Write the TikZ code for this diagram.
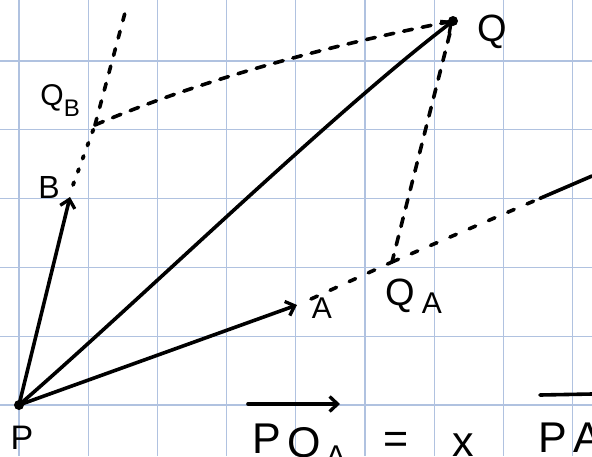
\documentclass[tikz,border=0pt]{standalone}
\usepackage{fontspec}
\setmainfont{Liberation Sans}
\usetikzlibrary{arrows.meta,calc}
\definecolor{gridblue}{RGB}{176,194,224}
\begin{document}
\begin{tikzpicture}[x=1pt,y=-1pt,
  gridline/.style={gridblue, line width=1.2pt},
  vec/.style={line width=3.6pt, line cap=round, -{Straight Barb[length=8pt,width=15pt,line width=3.3pt]}},
  guide/.style={line width=3.6pt, line cap=round, dash pattern=on 9pt off 10pt},
  dotguide/.style={line width=3.8pt, line cap=round, dash pattern=on 3pt off 11pt},
  sparse/.style={line width=3.6pt, line cap=round, dash pattern=on 7pt off 14pt},
  dot/.style={circle, fill, inner sep=0pt, minimum size=10pt},
  lab/.style={inner sep=0pt, font=\fontsize{34}{34}\selectfont},
  sub/.style={inner sep=0pt, font=\fontsize{28}{28}\selectfont},
  big/.style={inner sep=0pt, anchor=base, font=\fontsize{43}{43}\selectfont}]
\useasboundingbox (0,0) rectangle (592,456);
\fill[white] (0,0) rectangle (592,456);
\clip (0,0) rectangle (592,456);
% grid
\foreach \x in {19,88.2,157.4,226.6,295.8,365,434.2,503.4,572.6}
  \draw[gridline] (\x,0) -- (\x,456);
\foreach \y in {405,336.2,267.4,198.6,129.8,61}
  \draw[gridline] (0,\y) -- (592,\y);
% points
\node[dot] (P) at (19,405) {};
\node[dot] (Q) at (453,21) {};
\coordinate (A) at (297,305);
\coordinate (B) at (70,197);
\coordinate (QA) at (392,262);
\coordinate (QB) at (95,125);
\coordinate (Aend) at (592,176);
\coordinate (Bend) at (126,9);
% guide lines
\draw[dotguide] (B) ++(3,-12) -- (QB);
\draw[guide, dash pattern=on 7pt off 11pt] (QB) -- (Bend);
\draw[guide] (QB) .. controls (200,80) and (330,45) .. (Q.center);
\draw[guide, dash phase=6pt] (Q.center) -- (QA);
\draw[sparse] (A) ++(14,-6) -- (QA);
\draw[sparse] (QA) -- ($(QA)!0.74!(Aend)$) coordinate (Amid);
\draw[line width=3.6pt, line cap=round] (Amid) -- (Aend);
% vectors
\draw[vec] (P.center) -- (A);
\draw[vec] (P.center) -- (B);
\draw[vec] (P.center) .. controls (140,300) and (330,115) .. (Q.center);
% labels
\node[lab] (lP) at (22,438) {P};
\node[lab, font=\fontsize{38}{38}\selectfont] (lQ) at (492,32) {Q};
\node[lab, font=\fontsize{30}{30}\selectfont] (lA) at (322,308) {A};
\node[lab, font=\fontsize{32}{32}\selectfont] (lB) at (49,187) {B};
\node[lab, font=\fontsize{38}{38}\selectfont] (lQA) at (400,296) {Q};
\node[sub, font=\fontsize{30}{30}\selectfont] (lQAs) at (432,303) {A};
\node[lab, font=\fontsize{30}{30}\selectfont] (lQB) at (52,98) {Q};
\node[sub, font=\fontsize{24}{24}\selectfont] (lQBs) at (72,108) {B};
% equation
\node[big] (eP) at (267,453) {P};
\node[big] (eQ) at (304,457) {Q};
\node[big, font=\fontsize{30}{30}\selectfont] (eA) at (336,466) {A};
\node[big] (eEq) at (396,453) {=};
\node[big] (eX) at (463,456) {x};
\node[big] (eP2) at (553,452) {P};
\node[big] (eA2) at (588,452) {A};
\coordinate (ar1) at (248,404);
\coordinate (ar2) at (340,404);
\draw[vec] (ar1) -- (ar2);
\coordinate (ov1) at (540,395);
\coordinate (ov2) at (592,394);
\draw[line width=3.6pt, line cap=round] (ov1) -- (ov2);
\end{tikzpicture}
\end{document}
